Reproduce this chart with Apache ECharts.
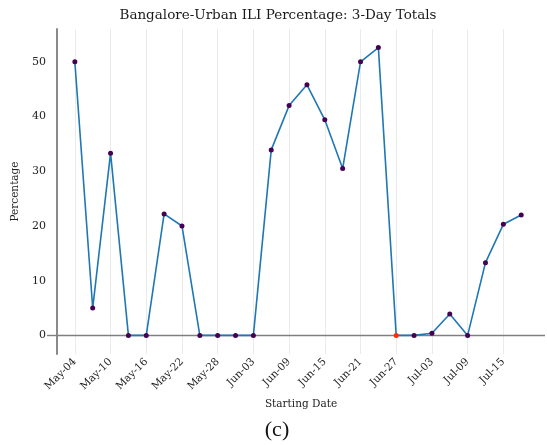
<!DOCTYPE html>
<html>
<head>
<meta charset="utf-8">
<script src="https://cdn.jsdelivr.net/npm/echarts@6/dist/echarts.min.js"></script>
<style>
  html, body { margin: 0; padding: 0; background: #ffffff; }
  #chart { width: 547px; height: 445px; }
</style>
</head>
<body>
<div id="chart"></div>
<script>
// Three-day window start dates and the ILI share for each window
const startDates = [
  'May-04', 'May-07', 'May-10', 'May-13', 'May-16', 'May-19', 'May-22',
  'May-25', 'May-28', 'May-31', 'Jun-03', 'Jun-06', 'Jun-09', 'Jun-12',
  'Jun-15', 'Jun-18', 'Jun-21', 'Jun-24', 'Jun-27', 'Jun-30', 'Jul-03',
  'Jul-06', 'Jul-09', 'Jul-12', 'Jul-15', 'Jul-18'
];
const iliPercent = [
  50.0, 5.0, 33.3, 0, 0, 22.2, 20.0,
  0, 0, 0, 0, 33.9, 42.0, 45.8,
  39.4, 30.5, 50.0, 52.6, 0, 0, 0.4,
  3.9, 0, 13.3, 20.3, 22.0
];
// Window flagged in red
const flaggedDates = ['Jun-27'];

// Dates that carry a tick label and a vertical grid line
const tickLabels = [
  'May-04', 'May-10', 'May-16', 'May-22', 'May-28', 'Jun-03', 'Jun-09',
  'Jun-15', 'Jun-21', 'Jun-27', 'Jul-03', 'Jul-09', 'Jul-15'
];

// Daily calendar for the horizontal axis (May-01 .. Jul-22)
const monthNames = ['May', 'Jun', 'Jul'];
const monthDays = [31, 30, 22];
const calendarDays = [];
monthNames.forEach((m, i) => {
  for (let d = 1; d <= monthDays[i]; d++) {
    calendarDays.push(m + '-' + String(d).padStart(2, '0'));
  }
});

const SERIF = '"DejaVu Serif", serif';
const isTick = (idx) => tickLabels.indexOf(calendarDays[idx]) >= 0;

const chart = echarts.init(document.getElementById('chart'), null, { renderer: 'canvas' });

chart.setOption({
  animation: false,
  backgroundColor: '#ffffff',
  grid: { left: 57, right: 2, top: 29, bottom: 91, containLabel: false },
  graphic: [
    {
      type: 'text', x: 278, y: 15,
      style: {
        text: 'Bangalore-Urban ILI Percentage: 3-Day Totals',
        font: '13.5px ' + SERIF, fill: '#1a1a1a',
        textAlign: 'center', textVerticalAlign: 'middle'
      }
    },
    {
      type: 'text', x: 277, y: 430,
      style: {
        text: '(c)', font: '22px "Liberation Serif", serif', fill: '#111111',
        textAlign: 'center', textVerticalAlign: 'middle'
      }
    }
  ],
  xAxis: {
    type: 'category',
    data: calendarDays,
    boundaryGap: false,
    name: 'Starting Date',
    nameLocation: 'middle',
    nameGap: 30,
    nameTextStyle: { fontFamily: SERIF, fontSize: 10.5, color: '#222222' },
    axisLine: { show: false, onZero: false },
    axisTick: { show: false },
    axisLabel: {
      interval: (idx) => isTick(idx),
      rotate: 45,
      margin: 6,
      fontFamily: SERIF,
      fontSize: 10.5,
      color: '#222222'
    },
    splitLine: {
      show: true,
      interval: (idx) => isTick(idx),
      lineStyle: { color: '#ebebeb', width: 1 }
    }
  },
  yAxis: {
    type: 'value',
    min: -3.4,
    max: 56,
    splitNumber: 6,
    name: 'Percentage',
    nameLocation: 'middle',
    nameGap: 36,
    nameTextStyle: { fontFamily: SERIF, fontSize: 10.5, color: '#222222' },
    axisLine: { show: true, lineStyle: { color: '#8a8a8a', width: 2 } },
    axisTick: {
      show: true,
      customValues: [0],
      length: 10,
      lineStyle: { color: '#7f7f7f', width: 1.4 }
    },
    axisLabel: {
      showMinLabel: false,
      showMaxLabel: false,
      margin: 11,
      fontFamily: SERIF,
      fontSize: 11,
      color: '#222222'
    },
    splitLine: {
      show: true,
      showMinLine: false,
      showMaxLine: false,
      lineStyle: { color: '#ebebeb', width: 1 }
    }
  },
  series: [
    {
      type: 'line',
      data: startDates.map((d, i) => ({
        value: [d, iliPercent[i]],
        itemStyle: { color: flaggedDates.indexOf(d) >= 0 ? '#ff2a0a' : '#440154' }
      })),
      symbol: 'circle',
      symbolSize: 5,
      showAllSymbol: true,
      lineStyle: { color: '#1f77b4', width: 1.6 },
      z: 3,
      markLine: {
        silent: true,
        symbol: 'none',
        label: { show: false },
        lineStyle: { color: '#7f7f7f', width: 1.4, type: 'solid' },
        data: [{ yAxis: 0 }],
        z: 2
      }
    }
  ]
});
</script>
</body>
</html>
